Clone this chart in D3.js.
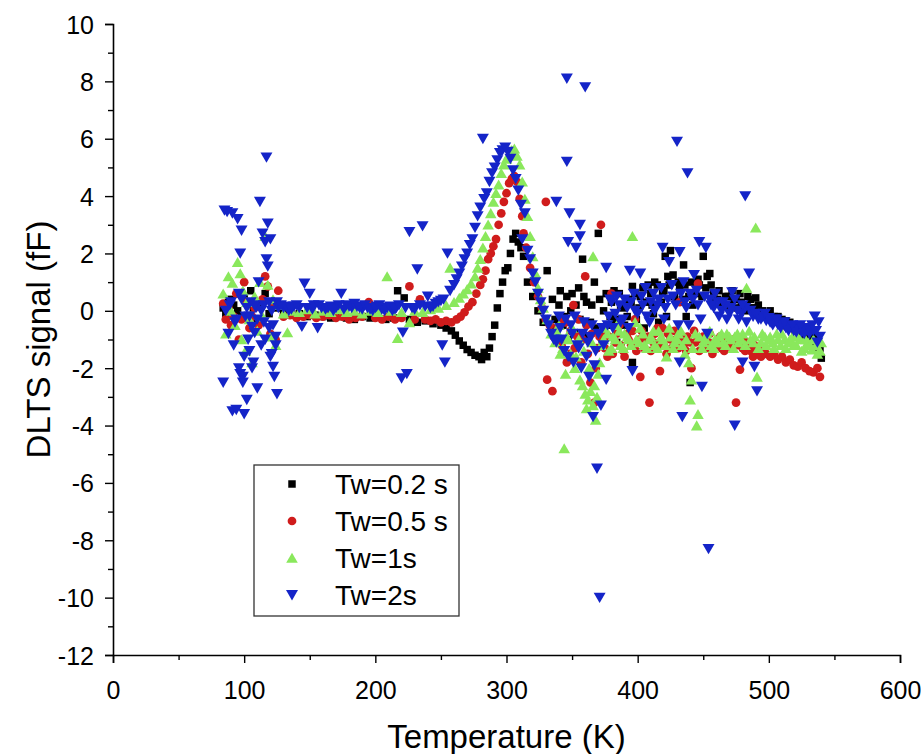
<!DOCTYPE html>
<html>
<head>
<meta charset="utf-8">
<script src="https://cdn.jsdelivr.net/npm/d3@7"></script>
<style>
  body { margin: 0; background: #fff; }
  svg text { font-family: "Liberation Sans", Arial, sans-serif; fill: #000; }
</style>
</head>
<body>
<div id="container"></div>
<script>
// DLTS signal vs temperature, four filling times
// each point: [temperature K, signal fF]

var tw02 = [
  [84,0.1],[86,-0.1],[88,0.3],[90,0.4],[92,0.2],[95,0.0],[98,-0.2],[100,0.5],[103,0.3],[105,0.7],
  [107,0.1],[110,-0.3],[113,0.2],[116,0.6],[119,-0.1],[122,0.3],[125,0.1],
  [130,-0.1],[136,-0.15],[142,-0.1],[148,-0.2],[154,-0.15],[160,-0.2],[166,-0.25],[172,-0.2],[178,-0.25],
  [184,-0.3],[190,-0.2],[196,-0.25],[202,-0.2],[208,-0.3],[214,-0.25],[217,0.7],[222,0.45],[226,-0.3],
  [232,-0.4],[238,-0.35],[244,-0.45],[250,-0.5],
  [254,-0.6],[258,-0.7],[261,-0.85],[264,-1.05],[267,-1.2],[270,-1.35],[273,-1.45],[276,-1.55],[279,-1.6],
  [281,-1.7],[283,-1.45],[285,-1.6],[287,-1.3],[289,-0.9],[291,-0.5],[293,0.1],[295,0.6],[297,1.0],
  [299,1.4],[301,1.5],[303,2.0],[305,2.5],[307,2.7],[309,2.4],[311,2.2],[313,1.9],
  [316,1.0],[320,0.5],[324,0.0],[328,-0.4],[331,1.4],[334,-0.6],[337,-0.3],[340,0.2],[343,-0.5],[346,0.5],
  [349,0.0],[352,-0.8],[355,0.8],[358,1.8],[361,0.3],[364,-0.4],[367,1.0],[370,2.7],[373,-1.0],[376,0.6],
  [379,-0.2],[382,0.7],[384,-1.1],[387,0.2],[390,-0.5],[393,0.4],[396,0.85],[396,-1.8],[399,-0.3],[402,0.5],
  [405,-0.6],[408,0.9],[411,0.2],[413,1.0],[416,-0.4],[419,0.6],[421,1.9],[423,1.2],[425,2.1],[427,1.25],
  [430,0.3],[432,0.8],[435,1.6],[437,-0.2],[440,-2.5],[441,1.0],[444,0.6],[447,0.9],[450,1.9],[453,1.2],
  [455,1.3],[458,0.6],[461,0.4],[464,0.3],[467,0.5],[470,0.2],[473,0.4],[476,0.1],[479,0.3],[482,0.0],
  [484,0.5],[487,0.1],[490,0.45],[493,-0.1],[496,-0.2],[499,-0.15],[502,-0.3],[505,-0.4],[508,-0.35],
  [511,-0.5],[514,-0.55],[517,-0.6],[520,-0.7],[523,-0.8],[526,-0.9],[529,-1.0],[532,-1.2],[535,-1.3],
  [538,-1.5],[540,-1.65],
  [335,0.4],[338,-0.9],[341,0.7],[344,-0.2],[347,-1.0],[350,0.6],[353,0.2],[356,-0.3],[359,0.5],[362,-0.9],
  [365,0.2],[368,-0.6],[371,0.4],[374,0.0],[377,-0.5],[380,0.3],[383,-0.3],[386,0.6],[389,0.1],[392,-0.2],
  [395,0.3],[398,0.6],[401,0.1],[404,0.8],[407,0.3],[410,0.6],[412,-0.1],[415,0.9],[418,0.3],[420,0.7],
  [422,-0.2],[424,0.9],[428,0.5],[431,1.0],[434,0.4],[436,0.9],[439,0.5],[442,0.2],[446,1.1],[449,0.5],
  [452,0.8],[456,0.9],[459,0.3],[462,0.7],[466,0.2],[469,0.5],[472,0.7],[475,0.4],[478,0.6],[481,0.2],
  [486,0.4],[489,0.1],[492,0.2],[495,0.0],[498,-0.1],[501,0.0],[504,-0.2],[507,-0.2],[510,-0.3],[513,-0.35],
  [516,-0.4],[519,-0.5],[522,-0.55],[525,-0.6],[528,-0.7],[531,-0.8],[534,-0.9],[537,-1.0],[539,-1.3]
];

var tw05 = [
  [84,0.25],[86,-0.3],[88,0.1],[90,-0.5],[92,-0.2],[94,0.6],[96,-1.0],[98,-0.3],[100,1.0],[102,0.3],
  [104,-0.6],[106,-0.2],[108,0.1],[111,-0.5],[114,0.4],[116,1.2],[118,0.85],[120,-0.8],[122,0.2],[124,-1.0],
  [126,0.7],
  [130,-0.2],[135,-0.15],[140,-0.25],[145,-0.2],[150,-0.15],[155,-0.25],[160,-0.2],[165,-0.15],[170,-0.25],
  [175,-0.2],[180,-0.3],[185,-0.25],[190,-0.2],[195,0.3],[200,-0.25],[205,-0.3],[210,-0.2],[215,-0.3],
  [220,-0.25],[226,0.85],[230,-0.3],[234,0.4],[238,-0.3],[242,-0.35],[246,-0.3],[250,-0.4],[254,-0.35],
  [258,-0.4],[262,-0.3],[265,-0.2],
  [268,-0.05],[271,0.15],[274,0.3],[277,0.6],[280,0.9],[282,1.1],[284,1.4],[286,1.8],[288,2.0],[290,2.25],
  [292,2.5],[294,3.0],[296,3.4],[298,3.8],[300,4.1],[302,4.45],[304,4.6],[306,4.7],[308,4.5],[310,3.9],
  [312,3.3],[313,2.7],[315,2.2],[318,1.5],[321,1.0],[324,0.5],[327,0.1],[330,3.8],[330,-0.3],[333,-0.5],
  [336,-0.9],[331,-2.4],[335,-2.8],
  [339,-0.6],[342,-1.2],[345,-0.4],[348,-1.5],[351,0.2],[354,-0.9],[357,-1.8],[360,1.2],[361,-0.5],[364,-2.5],
  [367,-3.2],[369,-1.3],[372,3.0],[374,-0.7],[377,-1.6],[380,0.6],[383,-1.1],[386,-0.5],[389,-1.4],[392,-0.8],
  [395,-1.2],[398,-0.3],[401,-1.0],[402,-2.3],[405,-1.3],[408,-0.9],[409,-3.2],[412,-1.1],[415,-0.6],
  [417,-2.1],[420,-1.2],[423,-0.8],[426,-1.3],[429,-1.0],[432,0.3],[435,-1.2],[438,-0.9],[441,-2.0],
  [444,-1.1],[446,0.95],[449,-1.0],[452,-1.3],[455,-0.8],[458,-1.2],[461,-1.0],[464,-1.3],[467,-1.1],
  [470,-1.2],[473,-1.0],[475,-3.2],[478,-2.05],[480,-1.3],[483,-1.1],[486,-1.4],[489,-1.2],[492,-1.5],
  [495,-1.3],[498,-1.5],[501,-1.6],[504,-1.5],[507,-1.7],[510,-1.6],[513,-1.8],[516,-1.7],[519,-1.9],
  [522,-1.95],[525,-1.8],[528,-2.0],[531,-2.1],[534,-2.15],[537,-2.0],[539,-2.3],
  [340,-1.0],[343,-0.3],[346,-1.8],[349,-0.7],[352,-1.3],[355,-0.3],[358,-1.0],[362,-1.5],[365,-0.8],
  [368,-2.0],[371,-0.9],[375,-1.3],[378,-0.9],[381,-1.5],[384,-0.8],[387,-1.2],[390,-1.6],[393,-1.0],
  [396,-0.7],[399,-1.4],[403,-0.7],[406,-1.0],[410,-1.4],[413,-0.8],[416,-1.2],[419,-0.6],[422,-1.5],
  [425,-1.0],[428,-0.7],[431,-1.3],[434,-0.9],[437,-1.4],[440,-1.1],[443,-0.7],[447,-1.4],[450,-0.9],
  [454,-1.1],[457,-1.5],[460,-1.2],[463,-0.9],[466,-1.4],[469,-1.0],[472,-1.3],[476,-1.2],[479,-1.0],
  [482,-1.4],[485,-1.2],[488,-1.6],[491,-1.3],[494,-1.6]
];

var tw1 = [
  [84,0.6],[86,-0.8],[88,1.2],[90,0.0],[91,0.97],[93,-0.5],[95,1.7],[97,1.3],[98,-1.0],[99,0.7],
  [101,-1.4],[102,0.3],[104,-0.3],[106,-1.8],[108,0.5],[110,-0.7],[112,1.0],[114,-0.2],[116,2.6],[118,0.9],
  [120,-0.9],[122,0.4],[124,-1.2],[126,0.2],
  [130,-0.1],[133,-0.75],[136,0.0],[142,-0.05],[148,0.05],[154,-0.1],[160,0.0],[166,-0.05],[172,0.05],
  [178,-0.05],[184,0.0],[190,-0.1],[196,0.0],[202,-0.05],[209,1.2],[212,0.0],[217,-0.95],[220,-0.05],
  [226,-0.4],[230,0.0],[236,-0.05],[242,0.05],[248,0.1],[254,0.2],[257,1.5],[260,0.3],[264,0.45],
  [267,0.6],[270,0.75],[273,0.95],[276,1.2],[278,1.5],[280,1.8],[282,2.2],[284,2.6],[286,3.0],[288,3.4],
  [290,3.8],[292,4.1],[294,4.4],[296,4.8],[298,5.1],[300,5.3],[302,5.45],[304,5.6],[306,5.65],[308,5.4],
  [310,5.1],[312,4.5],[314,3.9],[316,3.3],[318,2.6],[320,1.9],[322,1.3],[324,0.8],[326,0.4],[328,0.1],
  [331,-0.3],[334,-0.8],[337,-1.1],
  [340,-0.5],[343,-1.3],[344,-4.8],[346,-0.9],[349,-1.5],[352,-2.0],[355,-1.0],[358,-2.6],[360,-2.9],
  [362,-3.1],[364,-2.8],[366,1.9],[366,-3.3],[368,-3.8],[370,-2.2],[372,-1.2],[375,-0.6],[378,-1.4],
  [381,-0.9],[384,-0.5],[387,-1.2],[390,-0.8],[393,-1.0],[396,2.6],[398,-0.4],[401,-1.1],[404,-0.8],
  [407,-1.3],[410,-0.9],[413,-1.2],[416,-0.7],[419,-1.0],[422,-1.6],[425,-0.9],[428,-1.1],[431,-0.8],
  [434,-1.2],[437,-1.0],[440,-3.1],[442,-1.3],[445,-4.0],[447,-0.9],[450,-1.1],[453,-0.8],[456,-1.2],
  [459,-1.0],[462,-0.9],[465,-1.1],[468,-0.8],[471,-1.0],[474,-0.9],[477,-1.1],[480,-0.8],[483,0.8],
  [486,-1.0],[489,-0.9],[490,2.9],[491,-2.3],[494,-1.1],[497,-0.9],[500,-1.0],[503,-1.1],[506,-0.8],
  [509,-1.2],[512,-1.0],[515,-1.1],[518,-0.9],[521,-1.2],[524,-1.0],[527,-1.3],[530,-1.1],[533,-1.35],
  [536,-1.2],[539,-1.4],
  [338,-0.7],[341,-1.5],[345,-2.2],[347,-1.0],[350,-0.6],[353,-1.6],[356,-2.4],[359,-1.4],[361,-3.4],
  [363,-2.0],[365,-1.1],[367,-2.6],[369,-3.0],[371,-1.8],[374,-1.0],[377,-0.8],[380,-1.3],[383,-1.0],
  [386,-0.7],[389,-1.3],[392,-0.9],[395,-1.2],[399,-1.0],[402,-0.6],[405,-1.2],[409,-1.0],[412,-0.7],
  [415,-1.3],[418,-0.9],[421,-1.2],[424,-0.6],[427,-1.3],[430,-1.0],[433,-0.7],[436,-1.5],[439,-1.8],
  [441,-2.4],[444,-0.8],[446,-3.6],[449,-1.3],[452,-1.0],[455,-0.7],[458,-1.3],[461,-1.1],[464,-0.8],
  [467,-1.2],[470,-0.9],[473,-1.3],[476,-0.8],[479,-1.0],[482,-1.2],[485,-0.7],[488,-1.1],[492,-1.3],
  [495,-0.8],[498,-1.2],[501,-0.9],[504,-1.3],[507,-1.0],[510,-0.8],[513,-1.3],[516,-1.0],[519,-1.2],
  [522,-0.9],[525,-1.4],[528,-1.0],[531,-1.2],[534,-1.0],[537,-1.5],[540,-1.1]
];

var tw2 = [
  [84,-2.5],[85,3.5],[87,3.45],[89,0.2],[91,3.4],[91,-3.5],[93,-0.4],[94,-3.45],[95,3.2],[96,0.6],
  [97,2.0],[97,-2.2],[98,2.8],[99,-2.5],[99,-2.3],[100,-3.6],[101,-0.2],[102,-3.1],[103,-1.0],[104,-1.4],
  [105,0.3],[106,-0.55],[107,-1.8],[108,-0.77],[109,0.1],[110,-2.7],[112,3.8],[113,0.0],[114,2.7],[115,-0.4],
  [116,2.4],[117,5.35],[117,1.8],[118,3.05],[118,1.55],[119,-0.6],[120,-1.6],[121,-1.5],[122,-1.95],
  [123,-2.3],[124,-0.9],[125,-2.9],[126,0.1],
  [86,0.0],[88,-0.8],[90,0.3],[92,-1.2],[94,-0.3],[96,-2.0],[98,0.4],[100,-1.6],[102,0.1],[104,-0.2],
  [106,-2.0],[108,0.2],[110,-0.3],[111,1.0],[113,-1.2],[115,0.2],[116,-1.0],[119,0.3],[120,2.5],[121,0.0],
  [122,-0.5],[124,-1.2],[125,0.3],
  [130,0.1],[134,0.0],[138,0.15],[142,0.1],[144,-0.55],[146,0.95],[148,0.1],[150,0.6],[153,0.2],[156,-0.6],
  [159,0.1],[162,0.05],[166,0.15],[170,0.1],[174,0.6],[178,0.2],[182,0.1],[186,0.15],[190,0.05],[194,0.1],
  [198,0.0],[201,0.15],[205,0.05],[209,0.1],[213,0.0],[216,0.1],[220,-2.35],[221,-0.75],[224,-2.2],
  [226,2.75],[228,0.1],[232,1.45],[236,2.95],[238,0.15],[240,0.5],[244,0.15],[248,0.3],[251,-1.2],[252,0.4],
  [253,-1.8],[255,2.0],
  [128,0.2],[132,0.15],[136,0.05],[140,0.2],[152,0.05],[157,0.2],[164,0.1],[168,0.0],[172,0.2],[176,0.05],
  [180,0.15],[184,0.25],[188,0.1],[192,0.2],[196,0.05],[200,0.1],[203,0.2],[207,0.0],[211,0.15],[215,0.05],
  [218,0.2],[223,0.1],[230,0.05],[234,0.2],[242,0.1],[246,0.25],[250,0.35],
  [257,0.7],[260,0.9],[262,1.1],[264,1.3],[266,1.55],[268,1.8],[270,2.0],[272,2.3],[274,2.5],[276,2.9],
  [278,3.3],[280,3.6],[282,6.0],[283,3.9],[285,4.1],[287,4.5],[289,4.8],[291,5.0],[293,5.25],[295,5.5],
  [297,5.6],[299,5.7],[301,5.55],[303,5.3],[305,4.9],[307,4.6],[309,4.2],[311,3.7],[312,2.5],[314,3.4],
  [316,2.1],[318,1.8],[320,1.3],[322,1.0],[324,0.6],[326,0.3],[328,0.0],[330,-0.3],[332,-0.5],[334,-0.8],
  [336,-1.0],[338,-1.1],[338,3.8],
  [341,-0.6],[344,-1.4],[346,8.1],[346,5.2],[347,2.4],[348,3.4],[349,-0.5],[351,-1.8],[353,2.2],[354,-1.2],
  [356,2.6],[356,3.0],[358,-0.8],[360,7.8],[361,-1.6],[364,-0.9],[366,-3.7],[368,-1.4],[369,-5.5],[371,-10],
  [373,-0.6],[376,1.5],[376,-2.4],[378,-0.2],[380,0.3],[383,-0.1],[386,0.2],[389,-0.3],[392,0.1],[394,1.4],
  [396,-2.1],[398,0.0],[402,1.3],[404,0.2],[407,-0.2],[410,0.3],[413,0.0],[416,0.4],[419,2.2],[421,0.1],
  [424,1.7],[427,0.5],[430,5.9],[432,2.05],[432,-1.8],[434,-3.7],[436,0.3],[438,4.8],[440,0.6],[443,1.25],
  [446,0.2],[447,2.4],[449,-2.65],[452,2.2],[454,-8.3],[455,0.4],[458,0.1],[461,0.3],[464,0.0],[467,0.2],
  [470,-0.1],[472,0.65],[474,-4.0],[476,0.0],[479,-0.1],[480,-1.8],[482,4.0],[482,0.1],[485,1.3],[488,-0.2],
  [489,-1.95],[491,-2.8],[492,-0.3],[495,-0.2],[498,-0.35],[501,-0.4],[504,-0.3],[507,-0.5],[510,-0.45],
  [513,-0.6],[516,-0.55],[519,-0.7],[522,-0.6],[525,-0.75],[528,-0.65],[531,-0.8],[534,-0.7],[535,-0.2],
  [537,-1.1],[539,-0.9],
  [340,-0.2],[342,-1.0],[345,-0.3],[347,-1.6],[350,-0.8],[352,-0.2],[355,-1.3],[357,-2.0],[359,-0.4],
  [362,-1.1],[363,-2.3],[365,-0.5],[367,-1.9],[370,-0.8],[372,-3.3],[374,-1.2],[377,-0.5],[379,0.4],
  [381,-0.6],[384,0.5],[387,-0.4],[390,0.4],[393,-0.6],[395,0.3],[397,0.6],[400,-0.1],[403,0.5],[406,0.8],
  [409,-0.4],[412,0.6],[415,0.2],[418,0.8],[420,-0.3],[423,0.4],[426,0.9],[429,0.2],[431,-0.5],[433,0.6],
  [435,1.0],[437,0.1],[439,-0.5],[442,0.4],[445,0.7],[448,-0.3],[451,0.5],[453,-0.8],[456,0.2],[459,0.6],
  [462,-0.2],[465,0.3],[468,-0.3],[471,0.1],[474,0.4],[477,-0.3],[480,0.2],[483,-0.4],[486,0.0],[490,-0.1],
  [494,-0.3],[497,-0.1],[500,-0.25],[503,-0.5],[506,-0.3],[509,-0.6],[512,-0.4],[515,-0.7],[518,-0.5],
  [521,-0.75],[524,-0.5],[527,-0.8],[530,-0.6],[533,-0.5],[536,-0.7],[538,-0.4]
];

var seriesNames = ["Tw=0.2 s", "Tw=0.5 s", "Tw=1s", "Tw=2s"];
var seriesColors = ["#000000", "#d01c1c", "#8ae85c", "#1424c8"];

var xTicks = [0, 100, 200, 300, 400, 500, 600];
var yTicks = [-12, -10, -8, -6, -4, -2, 0, 2, 4, 6, 8, 10];

var series = [
  { name: seriesNames[0], color: seriesColors[0], data: tw02, shape: d3.symbolSquare, size: 56, rot: 0 },
  { name: seriesNames[1], color: seriesColors[1], data: tw05, shape: d3.symbolCircle, size: 60, rot: 0 },
  { name: seriesNames[2], color: seriesColors[2], data: tw1, shape: d3.symbolTriangle, size: 58, rot: 0 },
  { name: seriesNames[3], color: seriesColors[3], data: tw2, shape: d3.symbolTriangle, size: 62, rot: 180 }
];

var width = 921, height = 754;
var margin = { top: 24, right: 21, bottom: 99, left: 113 };

var svg = d3.select("#container").append("svg")
  .attr("width", width)
  .attr("height", height);

var x = d3.scaleLinear().domain([0, 600]).range([margin.left, width - margin.right]);
var y = d3.scaleLinear().domain([-12, 10]).range([height - margin.bottom, margin.top]);

function symbolAt(s, px, py) {
  // nudge triangles so the centroid sits on the value
  if (s.shape === d3.symbolTriangle) {
    if (s.rot) return "translate(" + px + "," + (py - 1.5) + ")rotate(" + s.rot + ")";
    return "translate(" + px + "," + (py + 1.5) + ")";
  }
  return "translate(" + px + "," + py + ")";
}

// points, first series at the bottom
series.forEach(function (s) {
  svg.append("g")
    .selectAll("path")
    .data(s.data)
    .enter()
    .append("path")
    .attr("d", d3.symbol().type(s.shape).size(s.size))
    .attr("transform", function (d) { return symbolAt(s, x(d[0]), y(d[1])); })
    .attr("fill", s.color);
});

var plainNum = function (d) { return String(d); };  // ascii hyphen like the original

// Y axis (major + minor)
var yAxis = svg.append("g")
  .attr("transform", "translate(" + margin.left + ",0)")
  .call(d3.axisLeft(y).tickValues(yTicks).tickSize(8).tickPadding(11).tickFormat(plainNum));
svg.append("g")
  .attr("transform", "translate(" + margin.left + ",0)")
  .call(d3.axisLeft(y).tickValues(d3.range(-11, 10, 2)).tickSize(5).tickFormat(""))
  .select(".domain").remove();

// X axis (major + minor)
var xAxis = svg.append("g")
  .attr("transform", "translate(0," + y(-12) + ")")
  .call(d3.axisBottom(x).tickValues(xTicks).tickSize(8).tickPadding(6).tickFormat(plainNum));
svg.append("g")
  .attr("transform", "translate(0," + y(-12) + ")")
  .call(d3.axisBottom(x).tickValues(d3.range(50, 600, 100)).tickSize(5).tickFormat(""))
  .select(".domain").remove();

svg.selectAll(".domain").attr("stroke", "#000").attr("stroke-width", 1.6);
svg.selectAll(".tick line").attr("stroke", "#000").attr("stroke-width", 1.4);
svg.selectAll(".tick text")
  .style("font-family", "Liberation Sans, Arial, sans-serif")
  .style("font-size", "25px")
  .attr("fill", "#000");
yAxis.selectAll(".tick text").attr("dy", "0.36em");
xAxis.selectAll(".tick text").attr("dy", "1.2em");

// axis titles
svg.append("text")
  .attr("x", (x(0) + x(600)) / 2)
  .attr("y", 748)
  .attr("text-anchor", "middle")
  .style("font-size", "33px")
  .text("Temperature (K)");

svg.append("text")
  .attr("transform", "translate(50," + ((y(-12) + y(10)) / 2) + ")rotate(-90)")
  .attr("text-anchor", "middle")
  .style("font-size", "33px")
  .text("DLTS signal (fF)");

// legend
var lg = svg.append("g").attr("transform", "translate(254,465)");
lg.append("rect")
  .attr("width", 205)
  .attr("height", 151)
  .attr("fill", "#fff")
  .attr("stroke", "#333")
  .attr("stroke-width", 1.3);

series.forEach(function (s, i) {
  var cy = 19 + i * 37;
  lg.append("path")
    .attr("d", d3.symbol().type(s.shape).size(s.size))
    .attr("transform", symbolAt(s, 38, cy))
    .attr("fill", s.color);
  lg.append("text")
    .attr("x", 81)
    .attr("y", cy)
    .attr("dy", "0.36em")
    .style("font-size", "28px")
    .text(s.name);
});
</script>
</body>
</html>
